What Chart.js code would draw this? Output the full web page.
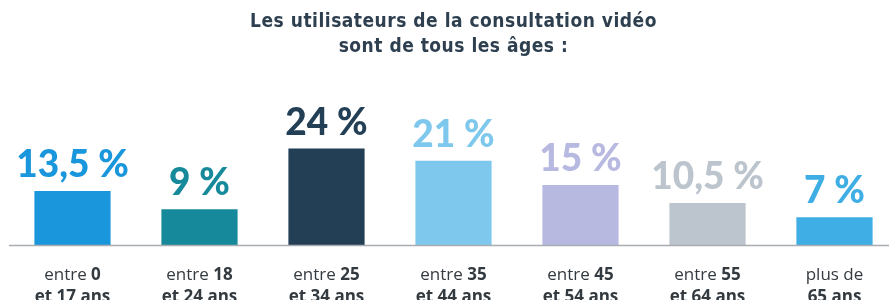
<!DOCTYPE html>
<html>
<head>
<meta charset="utf-8">
<script src="https://cdn.jsdelivr.net/npm/chart.js@4"></script>
<style>
html,body{margin:0;padding:0;background:#fff;overflow:hidden;}
#wrap{width:889px;height:300px;overflow:hidden;position:relative;}
canvas{display:block;}
</style>
</head>
<body>
<div id="wrap"><canvas id="c" width="907" height="300"></canvas></div>
<script>
const titleLines = ['Les utilisateurs de la consultation vidéo', 'sont de tous les âges :'];
const categories = ['0-17', '18-24', '25-34', '35-44', '45-54', '55-64', '65+'];
const values = [13.5, 9, 24, 21, 15, 10.5, 7];
const valueLabels = ['13,5 %', '9 %', '24 %', '21 %', '15 %', '10,5 %', '7 %'];
const labelLine1Regular = ['entre ', 'entre ', 'entre ', 'entre ', 'entre ', 'entre ', 'plus de'];
const labelLine1Bold = ['0', '18', '25', '35', '45', '55', ''];
const labelLine2Bold = ['et 17 ans', 'et 24 ans', 'et 34 ans', 'et 44 ans', 'et 54 ans', 'et 64 ans', '65 ans'];
const colors = ['#1a96dc', '#168a9a', '#233f55', '#7dc8ec', '#b7b9e0', '#bcc5cd', '#3eaee4'];

const textPlugin = {
  id: 'textPlugin',
  afterDatasetsDraw(chart) {
    const ctx = chart.ctx;
    const xs = chart.scales.x, ys = chart.scales.y;
    const area = chart.chartArea;
    const base = ys.getPixelForValue(0);
    ctx.save();
    // baseline
    ctx.strokeStyle = '#a9adb1';
    ctx.lineWidth = 1.5;
    ctx.beginPath();
    ctx.moveTo(area.left, base);
    ctx.lineTo(chart.width, base);
    ctx.stroke();
    // title
    const cx = (area.left + area.right) / 2;
    ctx.fillStyle = '#2e3f50';
    ctx.textAlign = 'center';
    ctx.textBaseline = 'alphabetic';
    ctx.font = 'bold 19px "DejaVu Sans Condensed", "DejaVu Sans"';
    if ('letterSpacing' in ctx) ctx.letterSpacing = '0.5px';
    ctx.fillText(titleLines[0], cx, 27);
    ctx.fillText(titleLines[1], cx, 52);
    if ('letterSpacing' in ctx) ctx.letterSpacing = '0px';
    // value labels
    ctx.font = '900 37px Lato';
    values.forEach((v, i) => {
      const x = xs.getPixelForValue(i);
      const y = ys.getPixelForValue(v);
      ctx.fillStyle = colors[i];
      ctx.fillText(valueLabels[i], x, y - 14);
    });
    // category labels
    const reg = '17px "Open Sans"';
    const bold = 'bold 17px "Open Sans"';
    ctx.fillStyle = '#333a40';
    ctx.textAlign = 'left';
    categories.forEach((c, i) => {
      const x = xs.getPixelForValue(i);
      ctx.font = reg;
      const w1 = ctx.measureText(labelLine1Regular[i]).width;
      ctx.font = bold;
      const w2 = ctx.measureText(labelLine1Bold[i]).width;
      let sx = x - (w1 + w2) / 2;
      ctx.font = reg;
      ctx.fillText(labelLine1Regular[i], sx, base + 34);
      ctx.font = bold;
      ctx.fillText(labelLine1Bold[i], sx + w1, base + 34);
      ctx.textAlign = 'center';
      ctx.fillText(labelLine2Bold[i], x, base + 56);
      ctx.textAlign = 'left';
    });
    ctx.restore();
  }
};

new Chart(document.getElementById('c'), {
  type: 'bar',
  data: {
    labels: categories,
    datasets: [{
      data: values,
      backgroundColor: colors,
      borderWidth: 0,
      categoryPercentage: 1,
      barPercentage: 0.6
    }]
  },
  options: {
    responsive: false,
    animation: false,
    layout: { padding: { left: 9, right: 9, top: 144.5, bottom: 54.5 } },
    plugins: { legend: { display: false }, tooltip: { enabled: false }, title: { display: false } },
    scales: {
      x: { display: false },
      y: { display: false, min: 0, max: 25 }
    }
  },
  plugins: [textPlugin]
});
</script>
</body>
</html>
